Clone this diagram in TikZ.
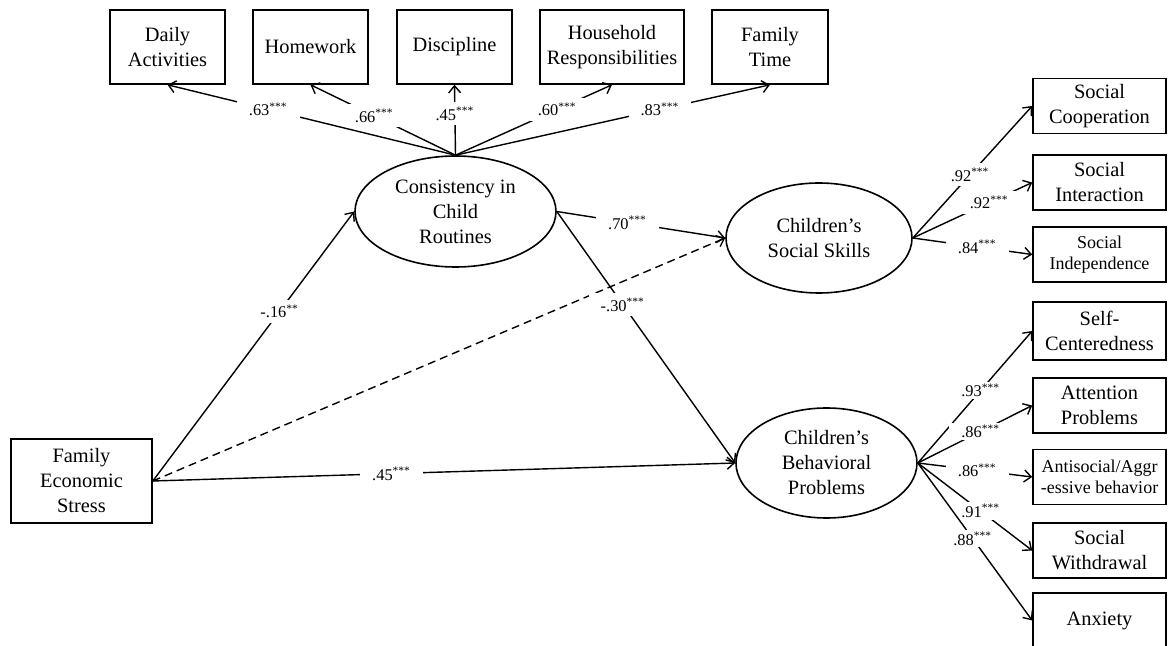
\documentclass[tikz,border=0pt]{standalone}
\usepackage{fontspec}
\setmainfont{Liberation Serif}
\usepackage{tikz}
\usetikzlibrary{arrows.meta}
\usetikzlibrary{shapes}
\usetikzlibrary{shapes.geometric}
\tikzset{>={Straight Barb[length=3.5pt,width=6pt]}}
\tikzstyle{obs} = [rectangle, draw, line width=0.8pt, align=center, inner sep=1pt, font=\fontsize{10.2}{12.5}\selectfont]
\tikzstyle{topbox} = [obs, minimum width=57.5pt, minimum height=37pt]
\tikzstyle{rbox} = [obs, minimum width=66.5pt, minimum height=27.5pt]
\tikzstyle{lat} = [ellipse, draw, line width=0.8pt, align=center, inner sep=0pt, font=\fontsize{10.2}{12.5}\selectfont]
\tikzstyle{coef} = [fill=white, inner xsep=6pt, inner ysep=2.5pt, font=\fontsize{8.2}{9.5}\selectfont]
\tikzstyle{lnk} = [->, line width=0.7pt]
\newcommand{\sthree}{\textsuperscript{***}}
\newcommand{\stwo}{\textsuperscript{**}}

\begin{document}
\begin{tikzpicture}[x=0.5pt, y=-0.5pt]
\useasboundingbox (0,0) rectangle (1169,646);
% indicators of routines
\node [topbox] (da) at (167.5, 47) {Daily\\Activities};
\node [topbox] (hw) at (310.5, 47) {Homework};
\node [topbox] (di) at (454.5, 47) {Discipline};
\node [topbox, minimum width=72pt] (hr) at (612, 47) {Household\\Responsibilities};
\node [topbox, minimum width=58pt] (ft) at (770, 47) {Family\\Time};
% latent variables
\node [lat, minimum width=100.5pt, minimum height=55.5pt] (cr) at (455.5, 211.5) {Consistency in\\Child\\Routines};
\node [lat, minimum width=93pt, minimum height=55pt] (ss) at (819, 238) {Children's\\Social Skills};
\node [lat, minimum width=90.5pt, minimum height=55pt] (bp) at (826.5, 463) {Children's\\Behavioral\\Problems};
\node [obs, minimum width=70.5pt, minimum height=42pt] (fes) at (81.5, 481) {Family\\Economic\\Stress};
% indicators of outcomes
\node [rbox] (sc) at (1099.5, 106) {Social\\Cooperation};
\node [rbox] (si) at (1099.5, 182.5) {Social\\Interaction};
\node [rbox, font=\fontsize{9}{10.8}\selectfont] (sn) at (1099.5, 254.5) {Social\\Independence};
\node [rbox, minimum height=29pt] (sf) at (1099.5, 331) {Self-\\Centeredness};
\node [rbox] (ap) at (1099.5, 405.5) {Attention\\Problems};
\node [rbox, font=\fontsize{9}{10.8}\selectfont] (ag) at (1099.5, 477) {Antisocial/Aggr\\-essive behavior};
\node [rbox] (sw) at (1099.5, 550.5) {Social\\Withdrawal};
\node [rbox] (ax) at (1099.5, 620.5) {Anxiety};

\draw [lnk] (cr.north) to node [coef, pos=.65] {.63\sthree} (da.south);
\draw [lnk] (cr.north) to node [coef, pos=.56] {.66\sthree} (hw.south);
\draw [lnk] (cr.north) to node [coef, pos=.59] {.45\sthree} (di.south);
\draw [lnk] (cr.north) to node [coef, pos=.65] {.60\sthree} (hr.south);
\draw [lnk] (cr.north) to node [coef, pos=.65] {.83\sthree} (ft.south);

\draw [lnk] (fes.east) to node [coef, pos=.63] {-.16\stwo} (cr.west);
\draw [lnk, dashed, dash pattern=on 4pt off 2.5pt] (fes.east) to (ss.west);
\draw [lnk] (fes.east) to node [coef, pos=.41] {.45\sthree} (bp.west);
\draw [lnk] (cr.east) to node [coef, pos=.42] {.70\sthree} (ss.west);
\draw [lnk] (cr.east) to node [coef, pos=.37] {-.30\sthree} (bp.west);

\draw [lnk] (ss.east) to node [coef, pos=.48] {.92\sthree} (sc.west);
\draw [lnk] (ss.east) to node [coef, pos=.64] {.92\sthree} (si.west);
\draw [lnk] (ss.east) to node [coef, pos=.54] {.84\sthree} (sn.west);

\draw [lnk] (bp.east) to node [coef, inner ysep=1pt, pos=.55] {.93\sthree} (sf.west);
\draw [lnk] (bp.east) to node [coef, inner ysep=1pt, pos=.55] {.86\sthree} (ap.west);
\draw [lnk] (bp.east) to node [coef, inner ysep=1pt, pos=.52] {.86\sthree} (ag.west);
\draw [lnk] (bp.east) to node [coef, inner ysep=1pt, pos=.55] {.91\sthree} (sw.west);
\draw [lnk] (bp.east) to node [coef, inner ysep=1pt, pos=.48] {.88\sthree} (ax.west);
\end{tikzpicture}
\end{document}
